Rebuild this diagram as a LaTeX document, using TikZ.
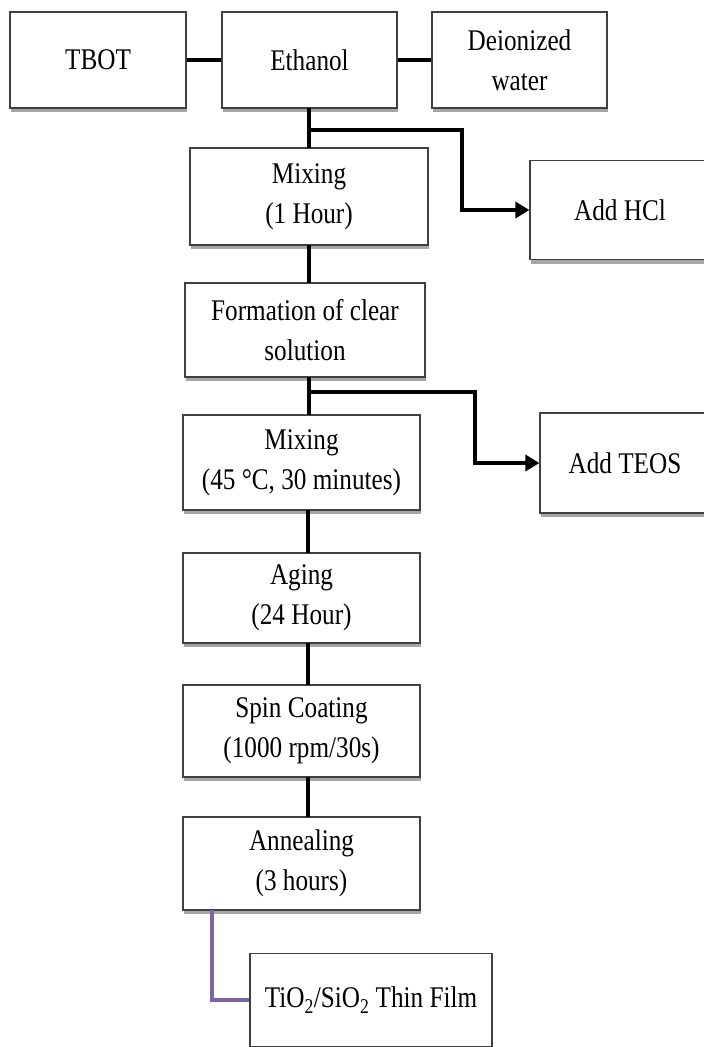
\documentclass[tikz,border=0pt]{standalone}
\usepackage{fontspec}
\setmainfont{Liberation Serif}[FakeStretch=0.84]
\usetikzlibrary{arrows.meta,shadows}
\begin{document}
\begin{tikzpicture}[x=1pt,y=-1pt,
  box/.style={draw=black!75,line width=1.2pt,fill=white,rectangle,align=center,
    font=\fontsize{30}{40}\selectfont,inner sep=0pt,
    drop shadow={shadow xshift=1pt,shadow yshift=-4pt,fill=black!35,opacity=1}},
  conn/.style={line width=4pt},
  arr/.style={line width=4pt,-{Triangle[length=14pt,width=16pt]}},
  purp/.style={line width=4pt,draw={rgb,255:red,128;green,100;blue,162}}]
\useasboundingbox (0,0) rectangle (704,1047);
\node[box,minimum width=176pt,minimum height=96pt] (tbot) at (98,60) {TBOT};
\node[box,minimum width=175pt,minimum height=96pt] (eth) at (309.5,60) {Ethanol};
\node[box,minimum width=175pt,minimum height=96pt] (dw) at (519.5,60) {Deionized\\water};
\node[box,minimum width=238pt,minimum height=97pt] (mix1) at (309,196.5) {Mixing\\(1 Hour)};
\node[box,minimum width=180pt,minimum height=99pt] (hcl) at (620,210) {Add HCl};
\node[box,minimum width=240pt,minimum height=94pt] (form) at (305,330) {Formation of clear\\solution};
\node[box,minimum width=237pt,minimum height=95pt] (mix2) at (301.5,462.5) {Mixing\\(45 °C, 30 minutes)};
\node[box,minimum width=170pt,minimum height=100pt] (teos) at (625,463) {Add TEOS};
\node[box,minimum width=237pt,minimum height=90pt] (aging) at (301.5,598) {Aging\\(24 Hour)};
\node[box,minimum width=237pt,minimum height=92pt] (spin) at (301.5,731) {Spin Coating\\(1000 rpm/30s)};
\node[box,minimum width=237pt,minimum height=93pt] (ann) at (301.5,863.5) {Annealing\\(3 hours)};
\node[box,minimum width=242pt,minimum height=93pt] (thin) at (371,1000) {TiO\textsubscript{2}/SiO\textsubscript{2} Thin Film};
\draw[conn] (tbot.east) -- (eth.west);
\draw[conn] (eth.east) -- (dw.west);
\draw[conn] (309,108) -- (309,148);
\coordinate (b1) at (309,130);
\draw[arr] (b1) -- (462,130) |- (hcl.west);
\draw[conn] (309,245) -- (309,283);
\draw[conn] (309,377) -- (309,415);
\coordinate (b2) at (309,392);
\draw[arr] (b2) -- (475,392) |- (teos.west);
\draw[conn] (308,510) -- (308,553);
\draw[conn] (308,643) -- (308,685);
\draw[conn] (308,777) -- (308,817);
\coordinate (p1) at (212,910);
\draw[purp] (p1) |- (thin.west);
\end{tikzpicture}
\end{document}
